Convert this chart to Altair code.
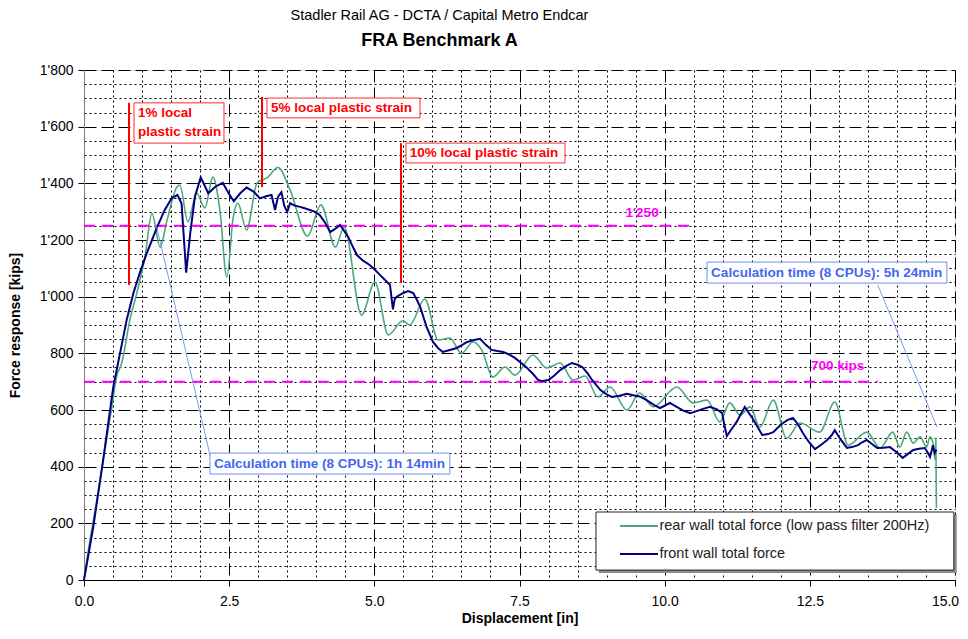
import altair as alt
import pandas as pd

# ---------------- data ----------------
front_x = [0.0, 0.16, 0.33, 0.505, 0.62, 0.735, 0.85, 0.96, 1.08, 1.25, 1.39, 1.51, 1.61, 1.68, 1.76,
           1.83, 1.91, 2.01, 2.14, 2.26, 2.39, 2.49, 2.58, 2.69, 2.80, 2.92, 3.03, 3.15, 3.23, 3.29,
           3.34, 3.40, 3.45, 3.50, 3.55, 3.62, 3.72, 3.80, 3.89, 3.97, 4.06, 4.15, 4.24, 4.33, 4.41,
           4.48, 4.55, 4.62, 4.70, 4.80, 4.92, 5.01, 5.10, 5.18, 5.27, 5.32, 5.35, 5.38, 5.44, 5.50,
           5.58, 5.67, 5.73, 5.79, 5.90, 6.01, 6.10, 6.18, 6.30, 6.42, 6.50, 6.60, 6.70, 6.82, 6.92,
           7.02, 7.12, 7.22, 7.32, 7.42, 7.53, 7.63, 7.73, 7.82, 7.90, 8.00, 8.10, 8.20, 8.30, 8.40,
           8.50, 8.58, 8.67, 8.75, 8.89, 9.00, 9.09, 9.22, 9.35, 9.46, 9.57, 9.66, 9.75, 9.83, 9.92,
           10.00, 10.09, 10.20, 10.32, 10.44, 10.55, 10.66, 10.78, 10.90, 10.99, 11.03, 11.07, 11.15,
           11.24, 11.31, 11.38, 11.44, 11.50, 11.60, 11.68, 11.78, 11.87, 11.96, 12.04, 12.12, 12.21,
           12.30, 12.38, 12.48, 12.59, 12.70, 12.80, 12.88, 12.93, 13.03, 13.14, 13.24, 13.33, 13.40,
           13.48, 13.57, 13.66, 13.77, 13.88, 14.00, 14.10, 14.19, 14.28, 14.38, 14.48, 14.53, 14.57,
           14.60, 14.62, 14.65, 14.68]
front_y = [0, 188, 424, 682, 800, 918, 1012, 1083, 1153, 1241, 1306, 1347, 1359, 1329, 1085,
           1224, 1353, 1421, 1365, 1388, 1402, 1365, 1337, 1365, 1385, 1371, 1347, 1355, 1359, 1306,
           1352, 1369, 1320, 1299, 1330, 1322, 1317, 1312, 1306, 1300, 1288, 1262, 1228, 1240, 1253,
           1232, 1211, 1180, 1147, 1128, 1112, 1095, 1076, 1060, 1041, 955, 990, 999, 1006, 1013,
           1020, 1013, 990, 964, 893, 840, 818, 805, 812, 819, 828, 840, 846, 851, 830,
           812, 808, 805, 796, 784, 766, 748, 728, 706, 702, 706, 722, 741, 755, 766,
           760, 752, 730, 706, 671, 655, 646, 650, 657, 652, 648, 638, 627, 616, 607,
           615, 625, 612, 598, 589, 596, 604, 611, 602, 589, 545, 508, 532,
           558, 585, 611, 592, 575, 540, 512, 515, 522, 540, 554, 565, 572,
           548, 519, 488, 462, 478, 494, 512, 529, 496, 466, 470, 476, 486,
           494, 480, 466, 467, 469, 450, 431, 445, 459, 463, 466, 450, 434,
           458, 476, 448, 460]

rear_x = [0.0, 0.05, 0.22, 0.36, 0.48, 0.56, 0.65, 0.79, 0.91, 1.05, 1.17, 1.31, 1.43, 1.60, 1.65,
          1.79, 1.94, 2.08, 2.22, 2.34, 2.46, 2.57, 2.65, 2.80, 2.98, 3.15, 3.34, 3.55, 3.85, 4.08,
          4.33, 4.48, 4.78, 5.01, 5.24, 5.49, 5.61, 5.87, 6.10, 6.30, 6.50, 6.70, 6.85, 7.04, 7.25,
          7.42, 7.73, 7.97, 8.20, 8.42, 8.63, 8.85, 9.06, 9.35, 9.57, 9.80, 10.21, 10.49, 10.73,
          10.95, 11.12, 11.30, 11.47, 11.64, 11.87, 12.10, 12.33, 12.67, 12.93, 13.16, 13.48, 13.71,
          13.93, 14.05, 14.17, 14.28, 14.40, 14.51, 14.57, 14.62, 14.66, 14.67, 14.68]
rear_y = [0, 71, 282, 459, 611, 716, 766, 918, 1013, 1140, 1294, 1175, 1270, 1387, 1394,
          1264, 1366, 1313, 1422, 1306, 1069, 1281, 1330, 1235, 1401, 1419, 1456, 1376, 1214, 1324,
          1175, 1246, 935, 1052, 865, 915, 900, 992, 847, 854, 800, 840, 812, 716, 752,
          723, 794, 748, 766, 706, 720, 646, 681, 600, 660, 611, 681, 625, 635,
          558, 625, 582, 611, 540, 635, 501, 554, 522, 628, 476, 522, 466,
          522, 469, 522, 483, 505, 469, 505, 483, 424, 500, 254]

series_names = ["rear wall total force (low pass filter 200Hz)", "front wall total force"]
series_colors = ["#4fa87c", "#000080"]

x_major_ticks = [0.0, 2.5, 5.0, 7.5, 10.0, 12.5, 15.0]
x_minor_ticks = [0.5, 1.0, 1.5, 2.0, 3.0, 3.5, 4.0, 4.5, 5.5, 6.0, 6.5, 7.0, 8.0, 8.5, 9.0, 9.5,
                 10.5, 11.0, 11.5, 12.0, 13.0, 13.5, 14.0, 14.5]
y_major_ticks = [0, 200, 400, 600, 800, 1000, 1200, 1400, 1600, 1800]
y_minor_ticks = [50, 100, 150, 250, 300, 350, 450, 500, 550, 650, 700, 750, 850, 900, 950,
                 1050, 1100, 1150, 1250, 1300, 1350, 1450, 1500, 1550, 1650, 1700, 1750]

# strain annotations (red)
strain_labels = ["1% local\nplastic strain", "5% local plastic strain", "10% local plastic strain"]
strain_line_x = [0.775, 3.065, 5.459]
strain_line_y1 = [1041, 1387, 1048]
strain_line_y2 = [1684, 1705, 1542]
strain_box_x1 = [0.861, 3.151, 5.545]
strain_box_x2 = [2.411, 5.786, 8.283]
strain_box_y1 = [1684, 1701, 1542]
strain_box_y2 = [1542, 1631, 1472]
strain_text_x = [0.93, 3.22, 5.61]
strain_text_y = [1648, 1666, 1507]

# limit lines (magenta)
limit_values = [1250, 700]
limit_end_x = [10.44, 13.67]
limit_labels = ["1'250", "700 kips"]
limit_label_x = [9.61, 12.98]
limit_label_y = [1297, 757]

# calculation time callouts (blue)
calc_labels = ["Calculation time (8 CPUs): 1h 14min", "Calculation time (8 CPUs): 5h 24min"]
calc_box_x1 = [2.17, 10.73]
calc_box_x2 = [6.30, 14.86]
calc_box_y1 = [448, 1122]
calc_box_y2 = [374, 1048]
calc_text_x = [2.24, 10.80]
calc_text_y = [411, 1085]
calc_lead_x1 = [1.251, 13.67]
calc_lead_y1 = [1247, 1041]
calc_lead_x2 = [2.17, 14.69]
calc_lead_y2 = [441, 540]

# legend box (placed in data units)
legend_box_x = [8.817, 14.98]
legend_box_y = [240, 35]
legend_shadow_dx = 0.05
legend_shadow_dy = 10
legend_sym_x = [9.23, 9.885]
legend_row_y = [190.6, 91.8]
legend_text_x = 9.91

# ---------------- tables ----------------
curves = pd.concat([
    pd.DataFrame({"x": rear_x, "y": rear_y, "series": series_names[0]}),
    pd.DataFrame({"x": front_x, "y": front_y, "series": series_names[1]}),
], ignore_index=True)

strain = pd.DataFrame({"label": strain_labels, "lx": strain_line_x, "ly1": strain_line_y1,
                       "ly2": strain_line_y2, "bx1": strain_box_x1, "bx2": strain_box_x2,
                       "by1": strain_box_y1, "by2": strain_box_y2, "tx": strain_text_x,
                       "ty": strain_text_y})
limits = pd.DataFrame({"v": limit_values, "x0": [0.0, 0.0], "x1": limit_end_x, "label": limit_labels,
                       "tx": limit_label_x, "ty": limit_label_y})
calc = pd.DataFrame({"label": calc_labels, "bx1": calc_box_x1, "bx2": calc_box_x2, "by1": calc_box_y1,
                     "by2": calc_box_y2, "tx": calc_text_x, "ty": calc_text_y,
                     "lx1": calc_lead_x1, "ly1": calc_lead_y1, "lx2": calc_lead_x2, "ly2": calc_lead_y2})
legend_box = pd.DataFrame({"x1": [legend_box_x[0]], "x2": [legend_box_x[1]],
                           "y1": [legend_box_y[0]], "y2": [legend_box_y[1]],
                           "sx1": [legend_box_x[0] + legend_shadow_dx],
                           "sx2": [legend_box_x[1] + legend_shadow_dx],
                           "sy1": [legend_box_y[0] - legend_shadow_dy],
                           "sy2": [legend_box_y[1] - legend_shadow_dy]})
legend_rows = pd.DataFrame({"series": series_names, "x1": legend_sym_x[0], "x2": legend_sym_x[1],
                            "y": legend_row_y, "tx": legend_text_x})

FONT = "Liberation Sans"
ANN = 13.5
xs = alt.Scale(domain=[0, 15], nice=False, zero=False)
ys = alt.Scale(domain=[0, 1800], nice=False, zero=False)
color_scale = alt.Scale(domain=series_names, range=series_colors)

y_label_expr = "replace(format(datum.value, ','), ',', \"'\")"

x_major_axis = alt.Axis(values=x_major_ticks, format=".1f", orient="bottom", grid=True,
                        gridDash=[12, 5], gridColor="black", gridOpacity=1, gridWidth=1,
                        tickSize=6, tickColor="black", domainColor="black", labelFont=FONT,
                        labelFontSize=14, labelColor="black", labelPadding=8, labelFlush=False,
                        labelOffset={"condition": {"test": "datum.value >= 15", "value": -10},
                                     "value": 0},
                        title="Displacement [in]", titleFont=FONT, titleFontSize=14,
                        titleFontWeight="bold", titleColor="black", titlePadding=3)
x_minor_axis = alt.Axis(values=x_minor_ticks, orient="bottom", grid=True, gridDash=[2, 3],
                        gridColor="black", gridOpacity=1, gridWidth=1, labels=False, ticks=False,
                        domain=False, title=None)
y_major_axis = alt.Axis(values=y_major_ticks, labelExpr=y_label_expr, orient="left", grid=True,
                        gridDash=[12, 5], gridColor="black", gridOpacity=1, gridWidth=1,
                        tickSize=6, tickColor="black", domainColor="#808080", labelFont=FONT,
                        labelFontSize=14, labelColor="black", labelPadding=5, labelFlush=False,
                        title="Force response [kips]", titleFont=FONT, titleFontSize=14,
                        titleFontWeight="bold", titleColor="black", titlePadding=17)
y_minor_axis = alt.Axis(values=y_minor_ticks, orient="left", grid=True, gridDash=[2, 3],
                        gridColor="black", gridOpacity=1, gridWidth=1, labels=False, ticks=False,
                        domain=False, title=None)

base = alt.Chart(curves)

rear_line = base.transform_filter(alt.datum.series == series_names[0]).mark_line(
    strokeWidth=1.6, interpolate="monotone").encode(
    x=alt.X("x:Q", scale=xs, axis=x_minor_axis),
    y=alt.Y("y:Q", scale=ys, axis=y_minor_axis),
    color=alt.Color("series:N", scale=color_scale, legend=None),
)
front_line = base.transform_filter(alt.datum.series == series_names[1]).mark_line(
    strokeWidth=2).encode(
    x=alt.X("x:Q", scale=xs, axis=x_major_axis),
    y=alt.Y("y:Q", scale=ys, axis=y_major_axis),
    color=alt.Color("series:N", scale=color_scale, legend=None),
)

lim = alt.Chart(limits)
limit_rules = lim.mark_rule(color="#ff00ff", strokeWidth=2, strokeDash=[11, 7]).encode(
    x=alt.X("x0:Q", axis=None), x2="x1:Q", y=alt.Y("v:Q", axis=None))
limit_text = lim.mark_text(color="#ff00ff", font=FONT, fontSize=ANN, fontWeight="bold",
                           align="center", baseline="middle").encode(
    x=alt.X("tx:Q", axis=None), y=alt.Y("ty:Q", axis=None), text="label:N")

st = alt.Chart(strain)
strain_rules = st.mark_rule(color="#ff0000", strokeWidth=2).encode(
    x=alt.X("lx:Q", axis=None), y=alt.Y("ly1:Q", axis=None), y2="ly2:Q")
strain_boxes = st.mark_rect(fill="white", stroke="#ff2a2a", strokeWidth=1).encode(
    x=alt.X("bx1:Q", axis=None), x2="bx2:Q", y=alt.Y("by1:Q", axis=None), y2="by2:Q")
strain_text = st.mark_text(color="#ff0000", font=FONT, fontSize=ANN, fontWeight="bold",
                           align="left", baseline="middle", lineBreak="\n", lineHeight=19).encode(
    x=alt.X("tx:Q", axis=None), y=alt.Y("ty:Q", axis=None), text="label:N")

cc = alt.Chart(calc)
calc_leads = cc.mark_rule(color="#7b9cf5", strokeWidth=1).encode(
    x=alt.X("lx1:Q", axis=None), x2="lx2:Q", y=alt.Y("ly1:Q", axis=None), y2="ly2:Q")
calc_boxes = cc.mark_rect(fill="white", stroke="#6f8ff2", strokeWidth=1).encode(
    x=alt.X("bx1:Q", axis=None), x2="bx2:Q", y=alt.Y("by1:Q", axis=None), y2="by2:Q")
calc_text = cc.mark_text(color="#3f67f2", font=FONT, fontSize=ANN, fontWeight="bold",
                         align="left", baseline="middle").encode(
    x=alt.X("tx:Q", axis=None), y=alt.Y("ty:Q", axis=None), text="label:N")

lb = alt.Chart(legend_box)
legend_shadow = lb.mark_rect(fill="#8c8c8c", stroke=None).encode(
    x=alt.X("sx1:Q", axis=None), x2="sx2:Q", y=alt.Y("sy1:Q", axis=None), y2="sy2:Q")
legend_frame = lb.mark_rect(fill="white", stroke="#222222", strokeWidth=1).encode(
    x=alt.X("x1:Q", axis=None), x2="x2:Q", y=alt.Y("y1:Q", axis=None), y2="y2:Q")
lr = alt.Chart(legend_rows)
legend_syms = lr.mark_rule(strokeWidth=2).encode(
    x=alt.X("x1:Q", axis=None), x2="x2:Q", y=alt.Y("y:Q", axis=None),
    color=alt.Color("series:N", scale=color_scale, legend=None))
legend_text = lr.mark_text(font=FONT, fontSize=14.5, color="#222222", align="left",
                           baseline="middle").encode(
    x=alt.X("tx:Q", axis=None), y=alt.Y("y:Q", axis=None), text="series:N")

chart = alt.layer(
    rear_line, limit_rules, limit_text, front_line, strain_rules, calc_leads,
    strain_boxes, strain_text, calc_boxes, calc_text,
    legend_shadow, legend_frame, legend_syms, legend_text,
).resolve_axis(x="independent", y="independent").properties(
    width=871, height=510,
    padding={"left": 76, "top": 62, "right": 5, "bottom": 46},
    autosize=alt.AutoSizeParams(type="none"),
    title=alt.TitleParams(
        text="Stadler Rail AG - DCTA / Capital Metro Endcar",
        subtitle="FRA Benchmark A",
        anchor="middle", frame="group", dx=-80, offset=12,
        font=FONT, fontSize=14.5, fontWeight="normal", color="black",
        subtitleFont=FONT, subtitleFontSize=18, subtitleFontWeight="bold",
        subtitleColor="black", subtitlePadding=9,
    ),
).configure_view(stroke="#808080", strokeWidth=1).configure(background="white")

chart.save("out.html", embed_options={"renderer": "svg", "actions": False})
